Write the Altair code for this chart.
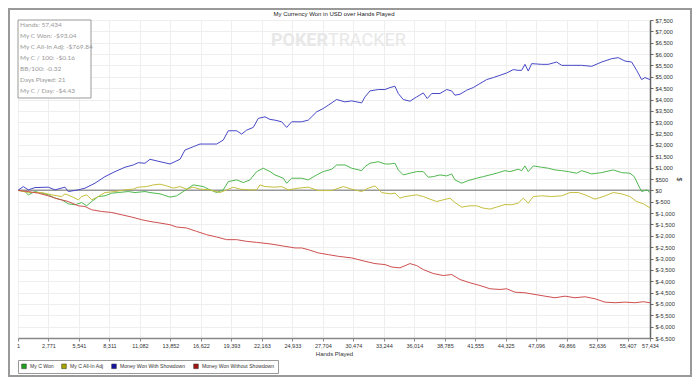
import altair as alt
import pandas as pd

series_names = ["My C Won", "My C All-In Adj", "Money Won With Showdown", "Money Won Without Showdown"]
line_colors = ["#4fb84f", "#c6bf3f", "#4848c8", "#cf4f4f"]
legend_colors = ["#20a020", "#a8a400", "#1414a0", "#a01414"]

x_ticks = [1, 2771, 5541, 8311, 11082, 13852, 16622, 19393, 22163, 24933, 27704,
           30474, 33244, 36014, 38785, 41555, 44325, 47096, 49866, 52636, 55407, 57434]
y_ticks = list(range(-6500, 7501, 500))

chart_title = "My Currency Won in USD over Hands Played"
stats_lines = ["Hands: 57,434", "My C Won: -$93.04", "My C All-In Adj: -$769.84",
               "My C / 100: -$0.16", "BB/100: -0.32", "Days Played: 21", "My C / Day: -$4.43"]

blue_hands = [1, 482, 936, 1545, 2753, 3362, 4271, 4571, 5479, 6088, 6997, 7906, 8815, 9724, 10477,
              10932, 11540, 11995, 12904, 13812, 14721, 15175, 15930, 16538, 17447, 18056, 18656, 19110,
              19873, 20328, 20782, 21382, 21836, 22445, 22899, 23354, 23963, 24417, 24871, 25780, 26380,
              27143, 27743, 28197, 28960, 29714, 30323, 31231, 31532, 31986, 32740, 33349, 33804, 34258,
              34558, 35012, 35621, 36230, 36830, 37193, 37593, 38347, 38956, 39410, 39710, 40165, 40773,
              41373, 41982, 42591, 43190, 43799, 44408, 45008, 45435, 45771, 46071, 46371, 46680, 47588,
              48188, 48952, 49406, 50315, 51223, 52132, 53040, 53949, 54549, 55158, 55767, 56221, 56675,
              56975, 57434]
blue_vals = [0, 167, 22, 123, 140, 22, 140, -53, 22, 96, 316, 605, 825, 1018, 1118, 1219, 1193, 1368,
             1263, 1162, 1368, 1776, 1921, 2039, 2039, 2039, 2215, 2623, 2623, 2478, 2653, 2772, 3167,
             3237, 3123, 3092, 3018, 2772, 3018, 3018, 3092, 3456, 3605, 3750, 4000, 3895, 3939, 3851,
             4114, 4377, 4439, 4439, 4526, 4583, 4263, 4000, 3925, 4114, 4289, 4044, 4263, 4263, 4439,
             4377, 4189, 4232, 4408, 4526, 4702, 4877, 4965, 5066, 5167, 5316, 5285, 5285, 5548, 5254,
             5579, 5548, 5548, 5649, 5504, 5504, 5504, 5461, 5649, 5798, 5842, 5693, 5649, 5285, 4877,
             4965, 4877]

green_hands = [1, 636, 936, 1545, 2154, 2753, 3362, 3971, 4571, 5180, 5788, 6243, 6697, 7297, 7906,
               8515, 9114, 10023, 10632, 11540, 11995, 12904, 13812, 14421, 15021, 15930, 16838, 17447,
               18056, 18656, 19110, 19873, 20473, 21082, 21691, 22290, 22899, 23354, 24108, 24417, 24871,
               25780, 26380, 27143, 27743, 28506, 28960, 29714, 30323, 31231, 31532, 31986, 32740, 33349,
               33804, 34258, 34558, 35012, 35621, 36230, 36830, 37284, 37738, 38347, 38956, 39410, 39710,
               40319, 40919, 41682, 42282, 42891, 43499, 44254, 44708, 45462, 45771, 46071, 46371, 46825,
               47588, 48188, 48797, 49406, 50006, 50769, 51223, 52132, 53040, 54094, 54857, 55612, 56002,
               56366, 56675, 57129, 57434]
green_vals = [0, -53, -197, -53, -123, -197, -342, -417, -592, -636, -535, -680, -491, -272, -241, -123,
              -96, -53, -96, -53, -96, -154, -298, -241, -53, 241, 167, 22, -96, 22, 386, 461, 342, 461,
              825, 974, 825, 680, 535, 316, 535, 535, 461, 680, 825, 930, 1118, 1118, 974, 868, 1044, 1193,
              1263, 1162, 1162, 1193, 899, 680, 754, 825, 825, 579, 605, 680, 636, 724, 461, 316, 430, 535,
              605, 680, 754, 868, 825, 930, 868, 1075, 825, 1075, 1018, 974, 899, 868, 825, 754, 868, 724,
              781, 899, 781, 754, 605, 241, -53, 22, -93]

yellow_hands = [1, 936, 2154, 3062, 3971, 4271, 4725, 5180, 5479, 5788, 6243, 6697, 7297, 7906, 8815,
                9724, 10477, 10932, 11695, 12295, 12904, 13512, 14112, 14721, 15330, 15930, 16538, 17447,
                18356, 18965, 19564, 20173, 21082, 21691, 21991, 22445, 23354, 23963, 24563, 25471, 26380,
                27288, 28506, 29560, 30323, 31231, 31832, 32441, 33049, 33804, 34258, 34712, 35167, 35621,
                36230, 36830, 37438, 38047, 38647, 39256, 39710, 40319, 41073, 41682, 42282, 42891, 43499,
                44254, 44862, 45462, 45917, 46371, 46825, 47588, 48497, 49406, 50160, 50914, 51523, 52432,
                53186, 54094, 54857, 55612, 56221, 56820, 57434]
yellow_vals = [0, -96, -96, -197, -272, -154, -241, -342, -417, -272, -197, -417, -272, -96, -53, 22, 53,
               140, 167, 241, 272, 197, 96, 167, 53, 140, 53, 22, -96, 22, 140, 53, 22, 22, 241, 167, 140,
               167, 22, 96, 140, -9, -9, 167, 53, -53, 96, 197, -96, -154, -123, -342, -272, -241, -197,
               -272, -386, -491, -417, -342, -535, -737, -680, -680, -781, -825, -737, -623, -636, -562,
               -342, -562, -272, -241, -272, -241, -96, -96, -197, -386, -272, -96, -154, -272, -491, -592,
               -770]

red_hands = [1, 936, 1845, 2753, 3662, 4571, 5479, 6088, 6697, 7606, 8515, 9423, 10332, 11241, 11995,
             12904, 13812, 14421, 15330, 16238, 17147, 18056, 18965, 19873, 20782, 21691, 22718, 23354,
             24263, 25171, 25780, 26380, 27288, 28197, 29106, 30323, 31532, 32441, 33349, 33985, 34712,
             35621, 36230, 36830, 37738, 38647, 39410, 40165, 41073, 41982, 42891, 43799, 44408, 45162,
             46071, 46980, 47888, 48797, 49706, 50615, 51523, 52432, 53340, 54249, 55158, 56066, 56820,
             57434]
red_vals = [0, -53, -123, -241, -386, -491, -680, -711, -855, -930, -974, -1075, -1175, -1294, -1368,
            -1439, -1513, -1614, -1658, -1807, -1952, -2053, -2171, -2171, -2246, -2289, -2346, -2390,
            -2465, -2535, -2535, -2610, -2754, -2829, -2904, -2974, -3123, -3224, -3268, -3377, -3412,
            -3224, -3311, -3487, -3662, -3750, -3706, -3925, -4070, -4189, -4333, -4364, -4333, -4483,
            -4509, -4583, -4658, -4728, -4658, -4728, -4684, -4772, -4921, -4947, -4921, -4947, -4903,
            -4947]

series_data = [(green_hands, green_vals), (yellow_hands, yellow_vals),
               (blue_hands, blue_vals), (red_hands, red_vals)]

legend_df = pd.DataFrame({"series": series_names})
one = pd.DataFrame({"a": [0]})

AX_FONT = "Liberation Sans"

x_enc = alt.X("hands:Q", scale=alt.Scale(domain=[1, 57434], nice=False, zero=False),
              axis=alt.Axis(values=x_ticks, tickCount=len(x_ticks),
                            labelExpr="format(datum.value, ',d')", title="Hands Played",
                            labelFlush=False, labelOverlap=False, grid=True, gridColor="#eeeeee",
                            tickSize=3, tickColor="#888888", domainColor="#888888", domainWidth=1.5,
                            labelFontSize=5.5, labelFont=AX_FONT, labelColor="#333333",
                            titleFontSize=6, titleFont=AX_FONT, titleFontWeight="normal",
                            titleColor="#333333", titlePadding=2, labelPadding=2))
y_enc = alt.Y("value:Q", scale=alt.Scale(domain=[-6500, 7500], nice=False, zero=False),
              axis=alt.Axis(orient="right", values=y_ticks, tickCount=len(y_ticks),
                            labelExpr="datum.value < 0 ? '$-' + format(-datum.value, ',d') : '$' + format(datum.value, ',d')",
                            title="$", titleAngle=90, labelFlush=False, labelOverlap=False,
                            grid=True, gridColor="#eeeeee", tickSize=3, tickColor="#666666",
                            domainColor="#666666", domainWidth=1.5, labelFontSize=5.7, labelFont=AX_FONT,
                            labelColor="#333333", titleFontSize=7, titleFont=AX_FONT,
                            titleFontWeight="normal", titleColor="#333333", titlePadding=1,
                            labelPadding=2))

line_layers = []
for (hs, vs), col in zip(series_data, line_colors):
    d = pd.DataFrame({"hands": hs, "value": vs})
    line_layers.append(alt.Chart(d).mark_line(strokeWidth=1, color=col).encode(
        x=x_enc, y=y_enc, order=alt.Order("hands:Q")))

legend_layer = alt.Chart(legend_df).mark_square(size=25, opacity=1).encode(
    x=alt.value(-200), y=alt.value(-200),
    fill=alt.Fill("series:N", scale=alt.Scale(domain=series_names, range=legend_colors),
                  legend=alt.Legend(orient="none", legendX=0, legendY=340, direction="horizontal",
                                    columns=4, title=None, symbolType="square", symbolSize=22,
                                    symbolStrokeColor="#333333", symbolStrokeWidth=0.5,
                                    symbolOpacity=1,
                                    labelFontSize=5.1, labelFont=AX_FONT, labelColor="#333333",
                                    strokeColor="#999999", fillColor="white", padding=3,
                                    columnPadding=6, labelOffset=3)),
)

zero = alt.Chart(one).mark_rule(color="#999999", strokeWidth=1.5).encode(y=alt.datum(0))

wm1 = alt.Chart(one).mark_text(text="POKER", font="Roboto", fontSize=18, fontWeight="bold",
                               color="#e8e8e8", align="right", baseline="middle").encode(
    x=alt.value(310), y=alt.value(21))
wm2 = alt.Chart(one).mark_text(text="TRACKER", font="Roboto", fontSize=18, fontWeight="normal",
                               color="#e8e8e8", align="left", baseline="middle").encode(
    x=alt.value(310), y=alt.value(21))

title_txt = alt.Chart(one).mark_text(text=chart_title, font=AX_FONT, fontSize=6, color="#222222",
                                     align="center", baseline="middle").encode(
    x=alt.value(316), y=alt.value(-6))

box = alt.Chart(one).mark_rect(fill="white", stroke="#999999", strokeWidth=1).encode(
    x=alt.value(0), x2=alt.value(73), y=alt.value(0), y2=alt.value(78))
stats = alt.Chart(one).mark_text(font="Lato", fontSize=6.5, color="#999999", align="left",
                                 baseline="top", lineHeight=11).encode(
    x=alt.value(2), y=alt.value(2), text=alt.value(stats_lines))

frame = alt.Chart(one).mark_rect(fill="transparent", stroke="#999999", strokeWidth=2).encode(
    x=alt.value(-9), x2=alt.value(673), y=alt.value(-11), y2=alt.value(356))

chart = alt.layer(wm1, wm2, zero, *line_layers, legend_layer, box, stats, title_txt, frame).properties(
    width=632, height=318,
    autosize=alt.AutoSizeParams(type="none"),
    padding={"left": 10, "top": 12, "right": 42, "bottom": 39},
).configure_view(stroke="#999999", strokeWidth=1.5).configure(background="white")

chart.save("out.html", embed_options={"renderer": "svg", "actions": False})
